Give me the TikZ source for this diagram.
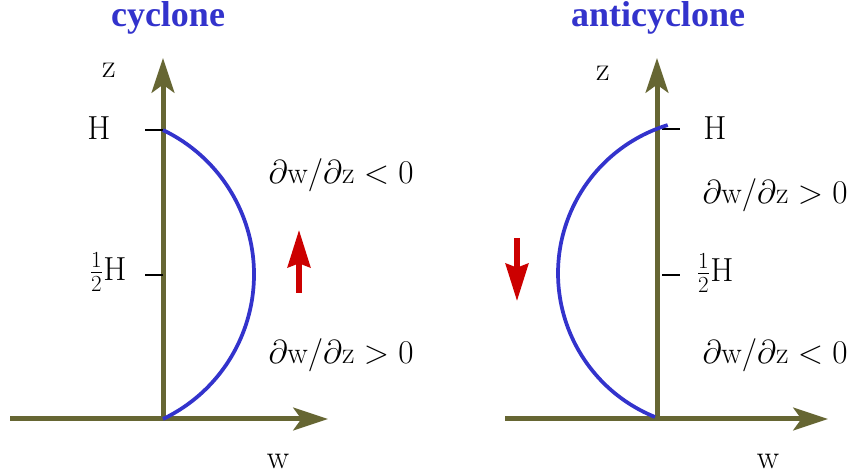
\documentclass[tikz,border=0pt]{standalone}
\usepackage{fontspec}
\newfontfamily\titlefont{Liberation Serif}
\usetikzlibrary{arrows.meta}

\definecolor{axisolive}{RGB}{102,102,51}
\definecolor{curveblue}{RGB}{51,51,204}
\definecolor{flowred}{RGB}{204,0,0}

\tikzset{
  axis/.style={draw=axisolive,line width=3.75pt,
    -{Stealth[length=26pt,width=17pt,inset=6pt]}},
  profile/.style={draw=curveblue,line width=2.8pt},
  flow/.style={draw=flowred,line width=3.9pt,
    -{Stealth[length=28pt,width=17pt,inset=3pt]}},
  tick/.style={draw=black,line width=0.9pt},
  lbl/.style={font=\fontsize{23}{27}\selectfont,inner sep=0pt},
  axlbl/.style={font=\fontsize{25}{29}\selectfont,inner sep=0pt},
  title/.style={font=\titlefont\bfseries\fontsize{27}{30}\selectfont,
    text=curveblue,inner sep=0pt,anchor=base},
}

\begin{document}
\begin{tikzpicture}[x=0.75pt,y=0.75pt]

\useasboundingbox (0,0) rectangle (851,475);

% cyclone
\coordinate (xs1) at (10,56);
\coordinate (o1) at (163,56);
\coordinate (xe1) at (328,56);
\coordinate (ze1) at (163,417);
\coordinate (tH1) at (145,345);
\coordinate (tHa1) at (163,345);
\coordinate (tM1) at (145,200);
\coordinate (tMa1) at (163,200);
\coordinate (up1) at (299,182);
\coordinate (up2) at (299,245);

\draw[axis] (xs1) -- (xe1);
\draw[axis] (o1) -- (ze1);
\draw[tick] (tH1) -- (tHa1);
\draw[tick] (tM1) -- (tMa1);
\draw[profile] (o1) arc[start angle=-64.4,end angle=64.4,radius=160.2];
\draw[flow] (up1) -- (up2);

\node[title]
(cyc)
at (168,448)
{cyclone};

\node[axlbl]
(zL)
at (109,405)
{z};

\node[axlbl]
(HL)
at (99,347)
{H};

\node[axlbl]
(halfL)
at (108,203)
{$\frac{1}{2}$H};

\node[axlbl]
(wL)
at (278,14)
{w};

\node[lbl]
(dtopL)
at (341,300)
{$\partial\mathrm{w}/\partial\mathrm{z} < 0$};

\node[lbl]
(dbotL)
at (341,120)
{$\partial\mathrm{w}/\partial\mathrm{z} > 0$};

% anticyclone
\coordinate (xs2) at (505,56);
\coordinate (o2) at (657,56);
\coordinate (b2) at (655,58);
\coordinate (xe2) at (828,56);
\coordinate (ze2) at (657,417);
\coordinate (tH2) at (662,346);
\coordinate (tHa2) at (680,346);
\coordinate (tM2) at (662,200);
\coordinate (tMa2) at (680,200);
\coordinate (dn1) at (517,237);
\coordinate (dn2) at (517,174);

\draw[axis] (xs2) -- (xe2);
\draw[axis] (o2) -- (ze2);
\draw[tick] (tH2) -- (tHa2);
\draw[tick] (tM2) -- (tMa2);
\draw[profile] (b2) arc[start angle=248,end angle=107,radius=155];
\draw[flow] (dn1) -- (dn2);

\node[title]
(anti)
at (658,448)
{anticyclone};

\node[axlbl]
(zR)
at (603,402)
{z};

\node[axlbl]
(HR)
at (715,347)
{H};

\node[axlbl]
(halfR)
at (715,202)
{$\frac{1}{2}$H};

\node[axlbl]
(wR)
at (768,14)
{w};

\node[lbl]
(dtopR)
at (775,280)
{$\partial\mathrm{w}/\partial\mathrm{z} > 0$};

\node[lbl]
(dbotR)
at (775,120)
{$\partial\mathrm{w}/\partial\mathrm{z} < 0$};

\end{tikzpicture}
\end{document}
